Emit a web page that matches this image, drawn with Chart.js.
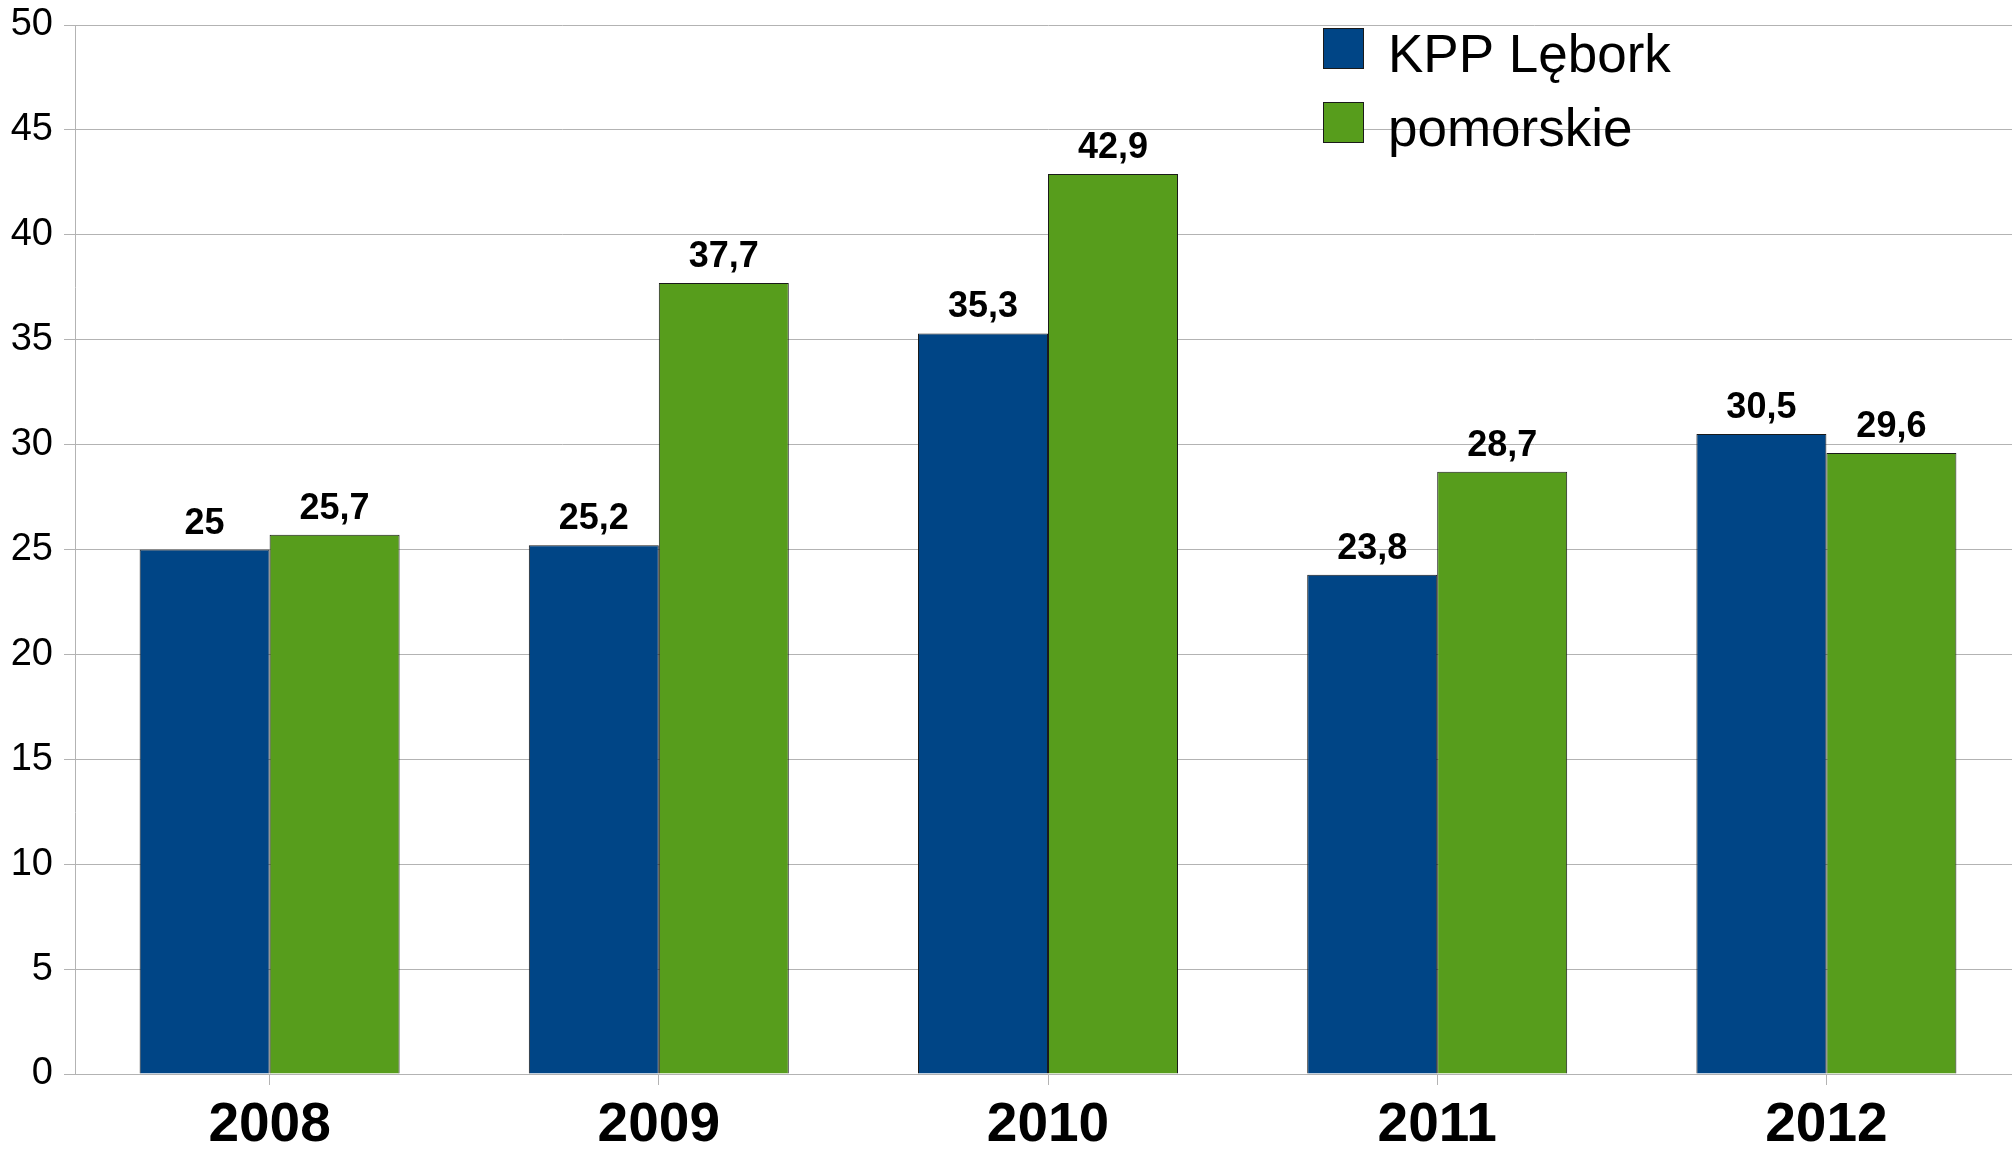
<!DOCTYPE html>
<html>
<head>
<meta charset="utf-8">
<script src="https://cdn.jsdelivr.net/npm/chart.js@4.4.1/dist/chart.umd.min.js"></script>
<style>
  html, body { margin: 0; padding: 0; background: #fff; overflow: hidden; }
  canvas { display: block; }
</style>
</head>
<body>
<canvas id="barChartCanvas" width="2021" height="1149"></canvas>
<script>
// data
var years = ['2008', '2009', '2010', '2011', '2012'];
var lebork = [25, 25.2, 35.3, 23.8, 30.5];
var pomorskie = [25.7, 37.7, 42.9, 28.7, 29.6];
var seriesNames = ['KPP Lębork', 'pomorskie'];
var yTicks = [0, 5, 10, 15, 20, 25, 30, 35, 40, 45, 50];

var FONT = '"Liberation Sans", Arial, sans-serif';
var GRID = '#b3b3b3';

function fmt(v) {
  return String(v).replace('.', ',');
}

// value labels above the bars
var valueLabels = {
  id: 'valueLabels',
  afterDatasetsDraw: function (chart) {
    var ctx = chart.ctx;
    ctx.save();
    ctx.font = 'bold 36px ' + FONT;
    ctx.fillStyle = '#000';
    ctx.textAlign = 'center';
    ctx.textBaseline = 'alphabetic';
    chart.data.datasets.forEach(function (ds, i) {
      chart.getDatasetMeta(i).data.forEach(function (bar, j) {
        ctx.fillText(fmt(ds.data[j]), bar.x, bar.y - 16);
      });
    });
    ctx.restore();
  }
};

// legend drawn inside the plot, top right
var insideLegend = {
  id: 'insideLegend',
  afterDraw: function (chart) {
    var ctx = chart.ctx;
    ctx.save();
    ctx.font = '53px ' + FONT;
    ctx.textBaseline = 'alphabetic';
    ctx.textAlign = 'left';
    chart.data.datasets.forEach(function (ds, i) {
      var y = 28 + i * 74;
      ctx.fillStyle = ds.backgroundColor;
      ctx.fillRect(1323, y, 41, 41);
      ctx.strokeStyle = '#1a1a1a';
      ctx.lineWidth = 1;
      ctx.strokeRect(1323.5, y + 0.5, 40, 40);
      ctx.fillStyle = '#000';
      ctx.fillText(ds.label, 1388, y + 44);
    });
    ctx.restore();
  }
};

var ctx = document.getElementById('barChartCanvas').getContext('2d');

var barChart = new Chart(ctx, {
  type: 'bar',
  data: {
    labels: years,
    datasets: [{
      label: seriesNames[0],
      data: lebork,
      backgroundColor: '#004586',
      borderColor: '#1a1a1a',
      borderWidth: 1
    }, {
      label: seriesNames[1],
      data: pomorskie,
      backgroundColor: '#579d1c',
      borderColor: '#1a1a1a',
      borderWidth: 1
    }]
  },
  options: {
    responsive: false,
    animation: false,
    devicePixelRatio: 1,
    layout: { padding: { top: 0, right: 0, left: 0, bottom: 0 } },
    datasets: {
      bar: { categoryPercentage: 0.668, barPercentage: 1 }
    },
    plugins: {
      legend: { display: false },
      tooltip: { enabled: false }
    },
    scales: {
      x: {
        grid: {
          offset: false,
          drawOnChartArea: false,
          drawTicks: true,
          tickLength: 11,
          color: GRID
        },
        border: { color: GRID },
        ticks: {
          color: '#000',
          padding: 8,
          font: { family: FONT, size: 55, weight: 'bold' }
        },
        afterFit: function (scale) { scale.height = 75; }
      },
      y: {
        min: 0,
        max: 50,
        afterBuildTicks: function (scale) {
          scale.ticks = yTicks.map(function (v) { return { value: v }; });
        },
        grid: {
          color: GRID,
          tickLength: 11
        },
        border: { color: GRID },
        ticks: {
          color: '#000',
          padding: 11,
          font: { family: FONT, size: 38 }
        },
        afterFit: function (scale) {
          scale.width = 75;
          scale.paddingTop = 25;
        }
      }
    }
  },
  plugins: [valueLabels, insideLegend]
});
</script>
</body>
</html>
